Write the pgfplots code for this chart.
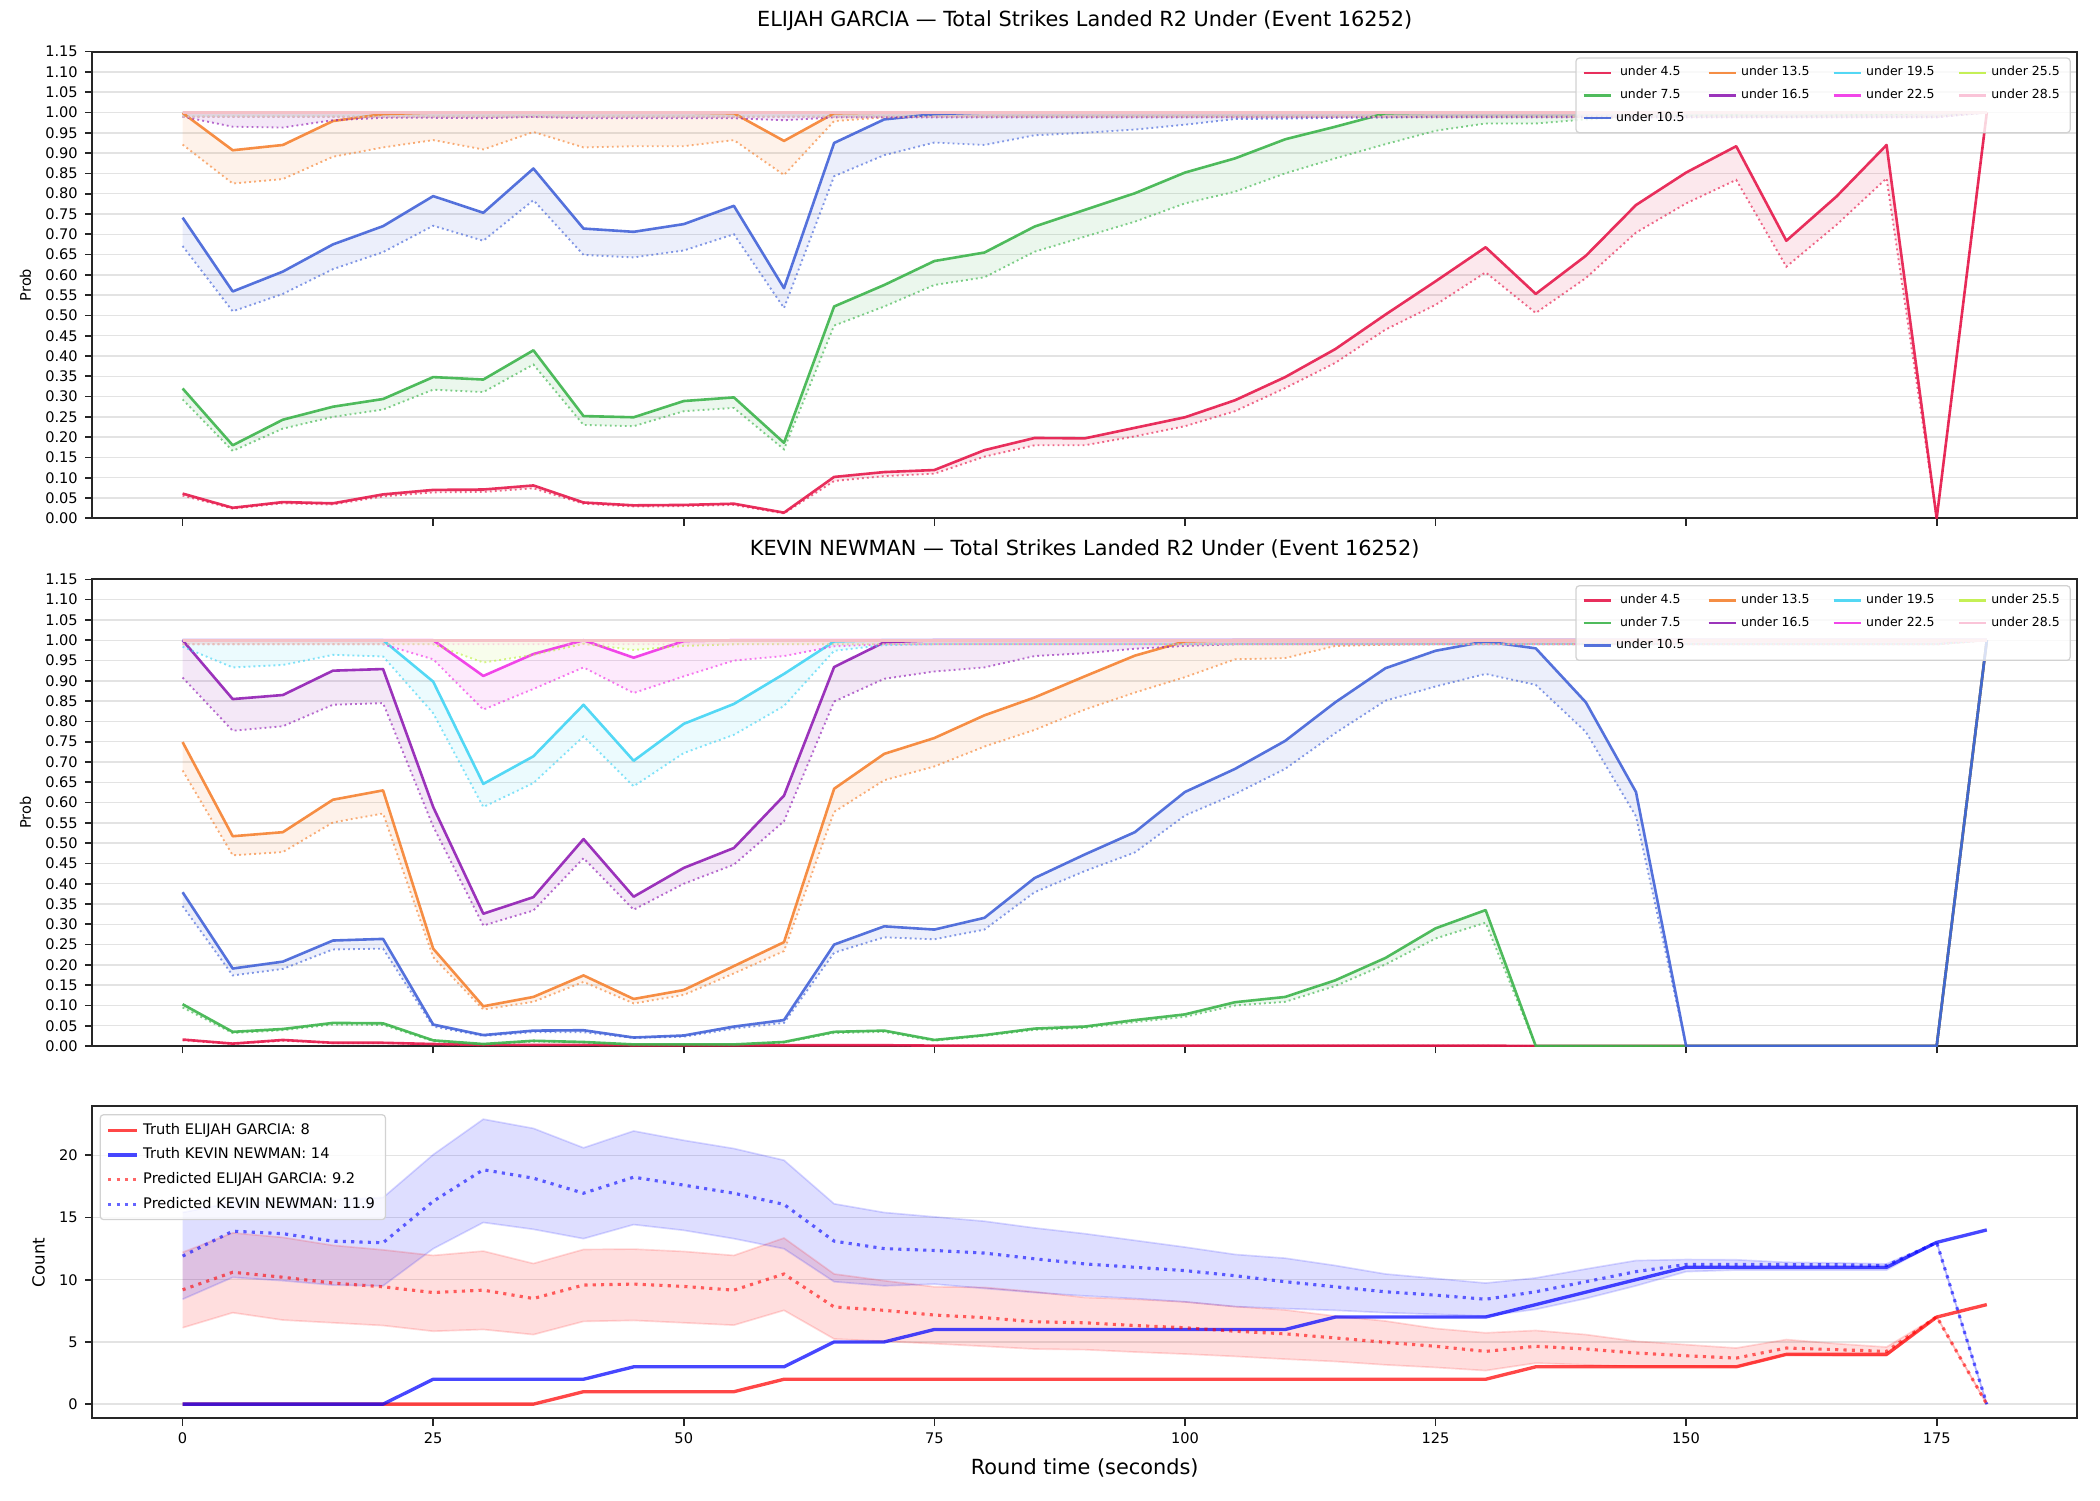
\documentclass[border=0pt]{standalone}
\usepackage{pgfplots}
\pgfplotsset{compat=1.18}
\usepgfplotslibrary{fillbetween}
\usepackage{fontspec}
\setmainfont{DejaVu Sans}

\definecolor{c45}{HTML}{E6194B}
\definecolor{c75}{HTML}{3CB44B}
\definecolor{c105}{HTML}{4363D8}
\definecolor{c135}{HTML}{F58231}
\definecolor{c165}{HTML}{911EB4}
\definecolor{c195}{HTML}{42D4F4}
\definecolor{c225}{HTML}{F032E6}
\definecolor{c255}{HTML}{BFEF45}
\definecolor{c285}{HTML}{FABED4}

\newcommand{\band}[4]{%
  \addplot[forget plot, name path=#1s, draw=#2, draw opacity=0.9, line width=1.25pt, line join=round] coordinates {#3};
  \addplot[forget plot, name path=#1d, draw=#2, draw opacity=0.65, line width=0.9pt, dash pattern=on 0.9pt off 1.5pt] coordinates {#4};
  \addplot[forget plot, draw=none, fill=#2, fill opacity=0.1] fill between[of=#1s and #1d];
}

\pgfplotsset{
  baseax/.style={
    scale only axis, width=952.6pt,
    xmin=-9, xmax=189,
    axis line style={line width=0.9pt, black!85},
    tick align=outside, tick pos=left,
    major tick length=3.5pt,
    tick style={black!85, line width=0.8pt},
    ymajorgrids, grid style={gray!22, line width=0.7pt},
    tick label style={font=\fontsize{7}{8}\selectfont},
    label style={font=\fontsize{7}{8}\selectfont},
    title style={font=\fontsize{10}{12}\selectfont, yshift=0.5pt},
    /pgf/number format/assume math mode=true,
    xtick={0,25,50,75,100,125,150,175},
  },
  probax/.style={
    baseax, height=224pt, ymin=0, ymax=1.15,
    xticklabels={},
    ytick={0,0.05,0.1,0.15,0.2,0.25,0.3,0.35,0.4,0.45,0.5,0.55,0.6,0.65,0.7,0.75,0.8,0.85,0.9,0.95,1,1.05,1.1,1.15},
    yticklabel style={/pgf/number format/.cd, fixed, fixed zerofill, precision=2},
    ylabel={Prob},
    legend columns=4,
    legend image code/.code={\draw[#1, line width=1.2pt] (0pt,0pt) -- (13pt,0pt);},
    legend style={at={(1,1)}, anchor=north east, xshift=-3pt, yshift=-2.8pt,
      draw=gray!35, line width=0.6pt, fill=white, fill opacity=0.8, text opacity=1,
      rounded corners=1.5pt, font=\fontsize{6}{7}\selectfont, row sep=0.8pt,
      /tikz/every even column/.append style={column sep=9pt}},
  },
}

\newcommand{\probleg}{%
  \addlegendimage{c45, draw opacity=0.9}\addlegendentry{under 4.5}
  \addlegendimage{c135, draw opacity=0.9}\addlegendentry{under 13.5}
  \addlegendimage{c195, draw opacity=0.9}\addlegendentry{under 19.5}
  \addlegendimage{c255, draw opacity=0.9}\addlegendentry{under 25.5}
  \addlegendimage{c75, draw opacity=0.9}\addlegendentry{under 7.5}
  \addlegendimage{c165, draw opacity=0.9}\addlegendentry{under 16.5}
  \addlegendimage{c225, draw opacity=0.9}\addlegendentry{under 22.5}
  \addlegendimage{c285, draw opacity=0.9}\addlegendentry{under 28.5}
  \addlegendimage{c105, draw opacity=0.9}\addlegendentry{under 10.5}
}

\begin{document}
\begin{tikzpicture}
\path (0,0) rectangle (1008pt,720pt);

% ---------------- ELIJAH GARCIA ----------------
\begin{axis}[probax, at={(44.35pt,471.2pt)}, anchor=south west,
  title={ELIJAH GARCIA — Total Strikes Landed R2 Under (Event 16252)}]
\band{EA}{c45}
{(0,0.061)(5,0.026)(10,0.040)(15,0.037)(20,0.059)(25,0.070)(30,0.071)(35,0.081)(40,0.039)(45,0.032)(50,0.033)(55,0.036)(60,0.014)(65,0.102)(70,0.114)(75,0.119)(80,0.168)(85,0.198)(90,0.197)(95,0.223)(100,0.249)(105,0.291)(110,0.348)(115,0.417)(120,0.502)(125,0.584)(130,0.668)(135,0.553)(140,0.647)(145,0.772)(150,0.852)(155,0.917)(160,0.684)(165,0.793)(170,0.920)(175,0)(180,1)}
{(0,0.056)(5,0.024)(10,0.037)(15,0.034)(20,0.054)(25,0.064)(30,0.065)(35,0.074)(40,0.036)(45,0.029)(50,0.030)(55,0.033)(60,0.012)(65,0.092)(70,0.104)(75,0.110)(80,0.152)(85,0.180)(90,0.180)(95,0.202)(100,0.227)(105,0.264)(110,0.321)(115,0.383)(120,0.465)(125,0.526)(130,0.606)(135,0.506)(140,0.592)(145,0.704)(150,0.776)(155,0.834)(160,0.620)(165,0.723)(170,0.838)(175,0)(180,1)}
\band{EB}{c75}
{(0,0.320)(5,0.180)(10,0.243)(15,0.275)(20,0.294)(25,0.348)(30,0.342)(35,0.414)(40,0.252)(45,0.249)(50,0.289)(55,0.298)(60,0.186)(65,0.522)(70,0.575)(75,0.634)(80,0.655)(85,0.719)(90,0.760)(95,0.801)(100,0.852)(105,0.887)(110,0.934)(115,0.965)(120,0.998)(125,1)(130,1)(135,1)(140,1)(145,1)(150,1)(155,1)(160,1)(165,1)(170,1)(175,1)(180,1)}
{(0,0.293)(5,0.166)(10,0.221)(15,0.250)(20,0.268)(25,0.317)(30,0.311)(35,0.379)(40,0.230)(45,0.227)(50,0.264)(55,0.272)(60,0.170)(65,0.475)(70,0.522)(75,0.575)(80,0.594)(85,0.657)(90,0.694)(95,0.731)(100,0.776)(105,0.805)(110,0.850)(115,0.887)(120,0.922)(125,0.955)(130,0.973)(135,0.973)(140,0.983)(145,0.990)(150,0.992)(155,0.993)(160,0.990)(165,0.993)(170,0.995)(175,0.999)(180,1)}
\band{EC}{c105}
{(0,0.741)(5,0.559)(10,0.608)(15,0.675)(20,0.720)(25,0.794)(30,0.753)(35,0.862)(40,0.714)(45,0.706)(50,0.725)(55,0.770)(60,0.567)(65,0.925)(70,0.983)(75,0.996)(80,1)(85,1)(90,1)(95,1)(100,1)(105,1)(110,1)(115,1)(120,1)(125,1)(130,1)(135,1)(140,1)(145,1)(150,1)(155,1)(160,1)(165,1)(170,1)(175,1)(180,1)}
{(0,0.671)(5,0.510)(10,0.553)(15,0.614)(20,0.656)(25,0.721)(30,0.684)(35,0.784)(40,0.649)(45,0.643)(50,0.660)(55,0.700)(60,0.518)(65,0.843)(70,0.895)(75,0.926)(80,0.920)(85,0.944)(90,0.950)(95,0.958)(100,0.970)(105,0.984)(110,0.985)(115,0.987)(120,0.988)(125,0.99)(130,0.99)(135,0.99)(140,0.99)(145,0.99)(150,0.99)(155,0.99)(160,0.99)(165,0.99)(170,0.99)(175,0.99)(180,1)}
\band{ED}{c135}
{(0,0.999)(5,0.907)(10,0.920)(15,0.979)(20,0.996)(25,1)(30,1)(35,1)(40,1)(45,1)(50,1)(55,0.998)(60,0.930)(65,0.998)(70,1)(75,1)(80,1)(90,1)(100,1)(120,1)(140,1)(160,1)(175,1)(180,1)}
{(0,0.921)(5,0.825)(10,0.836)(15,0.891)(20,0.914)(25,0.932)(30,0.909)(35,0.952)(40,0.914)(45,0.917)(50,0.917)(55,0.932)(60,0.846)(65,0.979)(70,0.988)(75,0.99)(80,0.99)(90,0.99)(100,0.99)(120,0.99)(140,0.99)(160,0.99)(175,0.99)(180,1)}
\band{EE}{c165}
{(0,1)(20,1)(40,1)(60,1)(80,1)(100,1)(120,1)(140,1)(160,1)(175,1)(180,1)}
{(0,0.99)(5,0.965)(10,0.963)(15,0.981)(20,0.987)(25,0.987)(30,0.986)(35,0.989)(40,0.986)(45,0.986)(50,0.986)(55,0.986)(60,0.981)(65,0.988)(70,0.988)(100,0.988)(140,0.988)(175,0.988)(180,1)}
\band{EF}{c195}{(0,1)(60,1)(120,1)(175,1)(180,1)}{(0,0.99)(60,0.99)(120,0.99)(175,0.99)(180,1)}
\band{EG}{c225}{(0,1)(60,1)(120,1)(175,1)(180,1)}{(0,0.989)(60,0.989)(120,0.989)(175,0.989)(180,1)}
\band{EH}{c255}{(0,1)(60,1)(120,1)(175,1)(180,1)}{(0,0.99)(60,0.99)(120,0.99)(175,0.99)(180,1)}
\band{EI}{c285}{(0,1)(60,1)(120,1)(175,1)(180,1)}{(0,0.99)(60,0.99)(120,0.99)(175,0.99)(180,1)}
\probleg
\end{axis}

% ---------------- KEVIN NEWMAN ----------------
\begin{axis}[probax, at={(44.35pt,217.9pt)}, anchor=south west,
  title={KEVIN NEWMAN — Total Strikes Landed R2 Under (Event 16252)}]
\band{KA}{c45}
{(0,0.016)(5,0.006)(10,0.015)(15,0.008)(20,0.008)(25,0.005)(30,0.003)(35,0.003)(40,0.003)(45,0.002)(50,0.002)(55,0.002)(60,0.002)(65,0.002)(70,0.002)(75,0.001)(80,0.001)(85,0.001)(90,0.001)(95,0.001)(100,0.001)(105,0.001)(110,0.001)(115,0.001)(120,0.001)(125,0.001)(130,0.001)(135,0)(140,0)(145,0)(150,0)(155,0)(160,0)(165,0)(170,0)(175,0)(180,1)}
{(0,0.014)(5,0.005)(10,0.013)(15,0.007)(20,0.007)(25,0.004)(30,0.002)(35,0.002)(40,0.002)(45,0.002)(50,0.002)(55,0.002)(60,0.002)(65,0.002)(70,0.002)(75,0.001)(80,0.001)(85,0.001)(90,0.001)(95,0.001)(100,0.001)(105,0.001)(110,0.001)(115,0.001)(120,0.001)(125,0.001)(130,0.001)(135,0)(140,0)(145,0)(150,0)(155,0)(160,0)(165,0)(170,0)(175,0)(180,1)}
\band{KB}{c75}
{(0,0.103)(5,0.035)(10,0.042)(15,0.057)(20,0.056)(25,0.014)(30,0.005)(35,0.013)(40,0.010)(45,0.004)(50,0.004)(55,0.004)(60,0.010)(65,0.035)(70,0.038)(75,0.015)(80,0.027)(85,0.043)(90,0.048)(95,0.064)(100,0.078)(105,0.108)(110,0.121)(115,0.162)(120,0.217)(125,0.290)(130,0.335)(135,0)(140,0)(145,0)(150,0)(155,0)(160,0)(165,0)(170,0)(175,0)(180,1)}
{(0,0.095)(5,0.032)(10,0.039)(15,0.053)(20,0.052)(25,0.012)(30,0.004)(35,0.011)(40,0.009)(45,0.003)(50,0.003)(55,0.003)(60,0.009)(65,0.032)(70,0.035)(75,0.013)(80,0.025)(85,0.040)(90,0.045)(95,0.059)(100,0.072)(105,0.100)(110,0.109)(115,0.148)(120,0.201)(125,0.265)(130,0.304)(135,0)(140,0)(145,0)(150,0)(155,0)(160,0)(165,0)(170,0)(175,0)(180,1)}
\band{KC}{c105}
{(0,0.379)(5,0.191)(10,0.208)(15,0.260)(20,0.264)(25,0.053)(30,0.027)(35,0.038)(40,0.039)(45,0.021)(50,0.026)(55,0.048)(60,0.064)(65,0.250)(70,0.295)(75,0.287)(80,0.316)(85,0.414)(90,0.472)(95,0.527)(100,0.626)(105,0.683)(110,0.752)(115,0.847)(120,0.931)(125,0.974)(130,0.997)(135,0.980)(140,0.847)(145,0.626)(150,0)(155,0)(160,0)(165,0)(170,0)(175,0)(180,1)}
{(0,0.345)(5,0.174)(10,0.190)(15,0.238)(20,0.240)(25,0.048)(30,0.025)(35,0.034)(40,0.034)(45,0.020)(50,0.023)(55,0.043)(60,0.057)(65,0.230)(70,0.268)(75,0.263)(80,0.287)(85,0.379)(90,0.431)(95,0.477)(100,0.568)(105,0.621)(110,0.683)(115,0.771)(120,0.851)(125,0.886)(130,0.917)(135,0.890)(140,0.774)(145,0.566)(150,0)(155,0)(160,0)(165,0)(170,0)(175,0)(180,1)}
\band{KD}{c135}
{(0,0.749)(5,0.517)(10,0.527)(15,0.607)(20,0.630)(25,0.240)(30,0.098)(35,0.121)(40,0.174)(45,0.116)(50,0.138)(55,0.197)(60,0.256)(65,0.634)(70,0.720)(75,0.759)(80,0.815)(85,0.859)(90,0.911)(95,0.962)(100,0.997)(105,1)(120,1)(140,1)(160,1)(175,1)(180,1)}
{(0,0.679)(5,0.470)(10,0.478)(15,0.551)(20,0.573)(25,0.219)(30,0.090)(35,0.109)(40,0.158)(45,0.105)(50,0.126)(55,0.179)(60,0.234)(65,0.577)(70,0.655)(75,0.689)(80,0.738)(85,0.779)(90,0.829)(95,0.871)(100,0.909)(105,0.953)(110,0.956)(115,0.986)(120,0.989)(125,0.99)(140,0.99)(160,0.99)(175,0.99)(180,1)}
\band{KE}{c165}
{(0,1)(5,0.855)(10,0.865)(15,0.925)(20,0.929)(25,0.589)(30,0.326)(35,0.367)(40,0.510)(45,0.368)(50,0.439)(55,0.488)(60,0.617)(65,0.934)(70,0.995)(75,1)(100,1)(120,1)(140,1)(160,1)(175,1)(180,1)}
{(0,0.908)(5,0.777)(10,0.788)(15,0.841)(20,0.845)(25,0.541)(30,0.297)(35,0.334)(40,0.463)(45,0.336)(50,0.400)(55,0.447)(60,0.554)(65,0.849)(70,0.905)(75,0.923)(80,0.933)(85,0.961)(90,0.968)(95,0.979)(100,0.986)(105,0.99)(120,0.99)(140,0.99)(160,0.99)(175,0.99)(180,1)}
\band{KF}{c195}
{(0,1)(5,1)(10,1)(15,1)(20,1)(25,0.898)(30,0.646)(35,0.714)(40,0.841)(45,0.703)(50,0.794)(55,0.843)(60,0.917)(65,0.997)(70,1)(100,1)(140,1)(175,1)(180,1)}
{(0,0.984)(5,0.933)(10,0.939)(15,0.964)(20,0.960)(25,0.820)(30,0.589)(35,0.648)(40,0.763)(45,0.640)(50,0.722)(55,0.767)(60,0.838)(65,0.974)(70,0.988)(75,0.99)(100,0.99)(140,0.99)(175,0.99)(180,1)}
\band{KG}{c225}
{(0,1)(5,1)(10,1)(15,1)(20,1)(25,1)(30,0.912)(35,0.966)(40,1)(45,0.957)(50,0.998)(55,1)(100,1)(140,1)(175,1)(180,1)}
{(0,0.99)(5,0.99)(10,0.99)(15,0.99)(20,0.99)(25,0.953)(30,0.829)(35,0.880)(40,0.933)(45,0.870)(50,0.911)(55,0.950)(60,0.961)(65,0.985)(70,0.99)(100,0.99)(140,0.99)(175,0.99)(180,1)}
\band{KH}{c255}
{(0,1)(60,1)(120,1)(175,1)(180,1)}
{(0,0.99)(5,0.99)(10,0.99)(15,0.99)(20,0.99)(25,0.99)(30,0.945)(35,0.964)(40,0.991)(45,0.976)(50,0.986)(55,0.99)(100,0.99)(140,0.99)(175,0.99)(180,1)}
\band{KI}{c285}{(0,1)(60,1)(120,1)(175,1)(180,1)}{(0,0.99)(60,0.99)(120,0.99)(175,0.99)(180,1)}
\probleg
\end{axis}

% ---------------- COUNT ----------------
\begin{axis}[baseax, at={(44.35pt,39.2pt)}, anchor=south west, height=149.8pt,
  ymin=-1.14, ymax=23.94, ytick={0,5,10,15,20},
  xlabel={Round time (seconds)}, ylabel={Count},
  xlabel style={font=\fontsize{10}{12}\selectfont},
  ylabel style={font=\fontsize{8}{9}\selectfont},
  legend image code/.code={\draw[#1] (0pt,0pt) -- (14pt,0pt);},
  legend cell align=left,
  legend style={at={(0,1)}, anchor=north west, xshift=3.5pt, yshift=-3.8pt,
    draw=gray!35, line width=0.6pt, fill=white, fill opacity=0.8, text opacity=1,
    rounded corners=1.5pt, font=\fontsize{7}{8}\selectfont, row sep=1pt}]
% Elijah band
\addplot[forget plot, name path=EU, draw=red, draw opacity=0.15, line width=0.8pt] coordinates {(0,12.2)(5,13.76)(10,13.4)(15,12.76)(20,12.4)(25,11.95)(30,12.3)(35,11.3)(40,12.43)(45,12.46)(50,12.27)(55,11.95)(60,13.35)(65,10.46)(70,9.92)(75,9.43)(80,9.38)(85,9.03)(90,8.57)(95,8.43)(100,8.22)(105,7.84)(110,7.57)(115,7.08)(120,6.68)(125,6.08)(130,5.73)(135,5.92)(140,5.59)(145,5.05)(150,4.78)(155,4.51)(160,5.19)(165,4.86)(170,4.59)(175,7.03)(180,0)};
\addplot[forget plot, name path=EL, draw=red, draw opacity=0.15, line width=0.8pt] coordinates {(0,6.14)(5,7.35)(10,6.76)(15,6.54)(20,6.32)(25,5.86)(30,6.0)(35,5.59)(40,6.65)(45,6.73)(50,6.54)(55,6.35)(60,7.54)(65,5.24)(70,5.05)(75,4.86)(80,4.65)(85,4.43)(90,4.38)(95,4.19)(100,4.03)(105,3.84)(110,3.62)(115,3.43)(120,3.16)(125,2.95)(130,2.70)(135,3.30)(140,3.16)(145,3.03)(150,3.03)(155,2.97)(160,3.97)(165,3.89)(170,3.89)(175,7.03)(180,0)};
\addplot[forget plot, draw=none, fill=red, fill opacity=0.13] fill between[of=EU and EL];
% Kevin band
\addplot[forget plot, name path=KU, draw=blue, draw opacity=0.15, line width=0.8pt] coordinates {(0,15.4)(5,16.2)(10,16.3)(15,16.4)(20,16.6)(25,20.05)(30,22.9)(35,22.16)(40,20.6)(45,21.95)(50,21.2)(55,20.54)(60,19.6)(65,16.1)(70,15.4)(75,15.05)(80,14.7)(85,14.16)(90,13.7)(95,13.16)(100,12.62)(105,12.03)(110,11.73)(115,11.14)(120,10.46)(125,10.1)(130,9.73)(135,10.14)(140,10.86)(145,11.54)(150,11.62)(155,11.6)(160,11.4)(165,11.35)(170,11.27)(175,13.0)(180,0)};
\addplot[forget plot, name path=KL, draw=blue, draw opacity=0.15, line width=0.8pt] coordinates {(0,8.43)(5,10.19)(10,9.92)(15,9.57)(20,9.51)(25,12.49)(30,14.6)(35,14.05)(40,13.3)(45,14.43)(50,13.97)(55,13.3)(60,12.49)(65,9.84)(70,9.51)(75,9.65)(80,9.3)(85,8.97)(90,8.7)(95,8.49)(100,8.22)(105,7.84)(110,7.68)(115,7.54)(120,7.35)(125,7.22)(130,7.08)(135,7.62)(140,8.49)(145,9.51)(150,10.65)(155,10.78)(160,10.78)(165,10.78)(170,10.78)(175,13.0)(180,0)};
\addplot[forget plot, draw=none, fill=blue, fill opacity=0.13] fill between[of=KU and KL];
% truths
\addplot[forget plot, draw=red, draw opacity=0.72, line width=1.6pt, line join=round] coordinates {(0,0)(5,0)(10,0)(15,0)(20,0)(25,0)(30,0)(35,0)(40,1)(45,1)(50,1)(55,1)(60,2)(65,2)(70,2)(75,2)(80,2)(85,2)(90,2)(95,2)(100,2)(105,2)(110,2)(115,2)(120,2)(125,2)(130,2)(135,3)(140,3)(145,3)(150,3)(155,3)(160,4)(165,4)(170,4)(175,7)(180,8)};
\addplot[forget plot, draw=blue, draw opacity=0.72, line width=1.6pt, line join=round] coordinates {(0,0)(5,0)(10,0)(15,0)(20,0)(25,2)(30,2)(35,2)(40,2)(45,3)(50,3)(55,3)(60,3)(65,5)(70,5)(75,6)(80,6)(85,6)(90,6)(95,6)(100,6)(105,6)(110,6)(115,7)(120,7)(125,7)(130,7)(135,8)(140,9)(145,10)(150,11)(155,11)(160,11)(165,11)(170,11)(175,13)(180,14)};
% predictions
\addplot[forget plot, draw=red, draw opacity=0.6, line width=1.5pt, dash pattern=on 1.5pt off 2.5pt] coordinates {(0,9.19)(5,10.6)(10,10.2)(15,9.73)(20,9.43)(25,8.97)(30,9.16)(35,8.49)(40,9.57)(45,9.65)(50,9.46)(55,9.16)(60,10.46)(65,7.81)(70,7.54)(75,7.16)(80,6.95)(85,6.62)(90,6.54)(95,6.32)(100,6.14)(105,5.86)(110,5.65)(115,5.32)(120,4.97)(125,4.65)(130,4.24)(135,4.65)(140,4.43)(145,4.11)(150,3.89)(155,3.70)(160,4.51)(165,4.38)(170,4.24)(175,7.03)(180,0)};
\addplot[forget plot, draw=blue, draw opacity=0.6, line width=1.5pt, dash pattern=on 1.5pt off 2.5pt] coordinates {(0,11.9)(5,13.9)(10,13.7)(15,13.1)(20,12.97)(25,16.3)(30,18.84)(35,18.16)(40,16.95)(45,18.24)(50,17.6)(55,16.95)(60,16.05)(65,13.1)(70,12.5)(75,12.35)(80,12.14)(85,11.68)(90,11.27)(95,11.0)(100,10.73)(105,10.32)(110,9.84)(115,9.43)(120,9.03)(125,8.76)(130,8.43)(135,9.03)(140,9.84)(145,10.65)(150,11.22)(155,11.22)(160,11.22)(165,11.2)(170,11.14)(175,13.0)(180,0)};
\addlegendimage{red, draw opacity=0.72, line width=1.6pt}\addlegendentry{Truth ELIJAH GARCIA: 8}
\addlegendimage{blue, draw opacity=0.72, line width=1.6pt}\addlegendentry{Truth KEVIN NEWMAN: 14}
\addlegendimage{red, draw opacity=0.6, line width=1.5pt, dash pattern=on 1.5pt off 2.5pt}\addlegendentry{Predicted ELIJAH GARCIA: 9.2}
\addlegendimage{blue, draw opacity=0.6, line width=1.5pt, dash pattern=on 1.5pt off 2.5pt}\addlegendentry{Predicted KEVIN NEWMAN: 11.9}
\end{axis}
\end{tikzpicture}
\end{document}
